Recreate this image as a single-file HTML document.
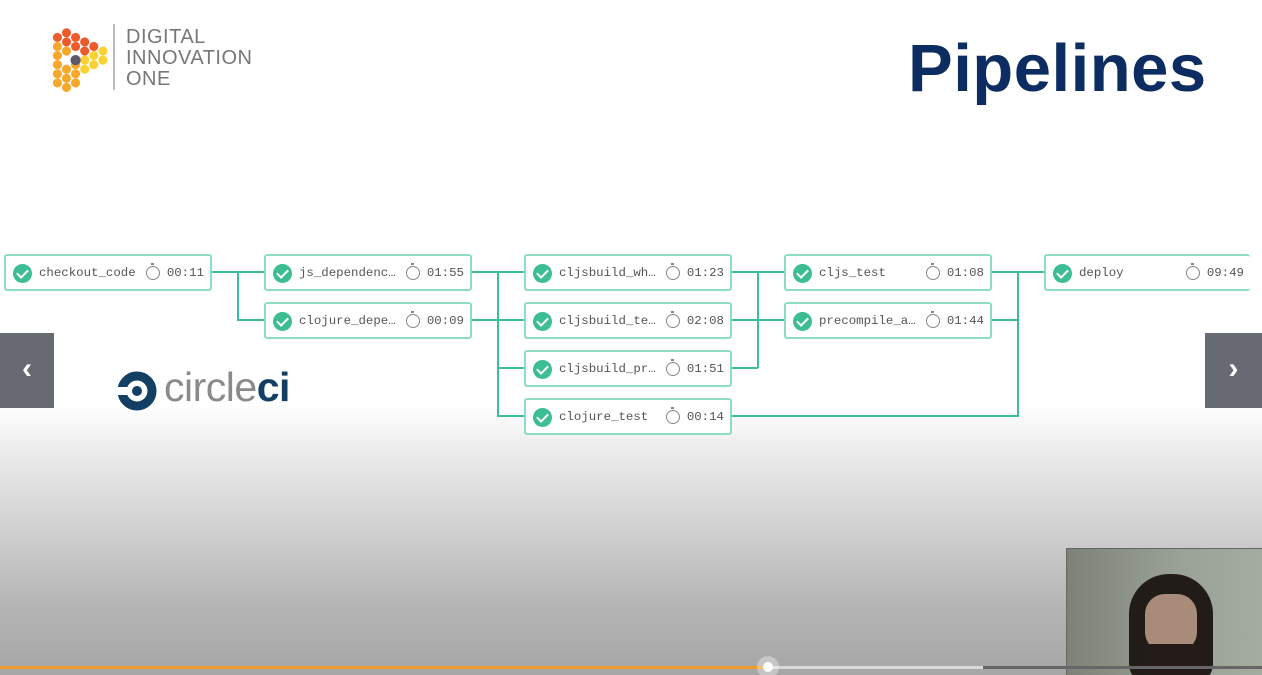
<!DOCTYPE html>
<html><head><meta charset="utf-8"><style>
*{margin:0;padding:0;box-sizing:border-box}
html,body{width:1262px;height:675px;overflow:hidden}
body{position:relative;font-family:"Liberation Sans",sans-serif;
background:linear-gradient(#fff 0,#fff 405px,#f0f0f0 440px,#d0d0d0 530px,#b4b4b4 610px,#a6a6a6 675px)}
.n{position:absolute;height:37px;border:2px solid #8fdcc6;border-radius:3px;background:#fff;font-family:"Liberation Mono",monospace;font-size:12.4px;color:#555}
.n .c{position:absolute;left:7px;top:8px;width:19px;height:19px;border-radius:50%;background:#3dbd93}
.n .c:after{content:"";position:absolute;left:6px;top:3px;width:5px;height:9px;border:solid #fff;border-width:0 2.5px 2.5px 0;transform:rotate(45deg)}
.n .l{position:absolute;left:33px;top:10px}
.n .t{position:absolute;right:6px;top:10px}
.n .w{position:absolute;right:50px;top:10px;width:14px;height:14px;border:1.5px solid #888;border-radius:50%;background:#fff}
.n .w:before{content:"";position:absolute;left:4px;top:-4px;width:3px;height:2px;background:#888}
.nav{position:absolute;top:333px;width:54px;height:75px;background:#676a72;color:#fff;font-size:30px;font-weight:bold;text-align:center;line-height:72px}
</style></head><body>
<svg style="position:absolute;left:48px;top:26px" width="62" height="66" viewBox="3 2 52 58">
<g fill="#ef5a2d"><circle cx="18" cy="8" r="4"/><circle cx="26" cy="12" r="4"/><circle cx="34" cy="16" r="4"/><circle cx="10" cy="12" r="4"/><circle cx="18" cy="16" r="4"/><circle cx="26" cy="20" r="4"/><circle cx="34" cy="24" r="4"/><circle cx="42" cy="20" r="4"/></g>
<g fill="#f7a82a"><circle cx="10" cy="20" r="4"/><circle cx="10" cy="28" r="4"/><circle cx="10" cy="36" r="4"/><circle cx="10" cy="44" r="4"/><circle cx="10" cy="52" r="4"/><circle cx="18" cy="24" r="4"/><circle cx="18" cy="40" r="4"/><circle cx="18" cy="48" r="4"/><circle cx="18" cy="56" r="4"/><circle cx="26" cy="36" r="4"/><circle cx="26" cy="44" r="4"/><circle cx="26" cy="52" r="4"/></g>
<g fill="#fcd232"><circle cx="34" cy="32" r="4"/><circle cx="34" cy="40" r="4"/><circle cx="42" cy="28" r="4"/><circle cx="42" cy="36" r="4"/><circle cx="50" cy="32" r="4"/><circle cx="50" cy="24" r="4"/></g>
<circle cx="26" cy="32" r="4.5" fill="#5a5a6a"/></svg>
<div style="position:absolute;left:113px;top:24px;width:2px;height:66px;background:#bbb"></div>
<div style="position:absolute;left:126px;top:27px;font-size:20px;line-height:21px;color:#777;letter-spacing:0.5px">DIGITAL<br>INNOVATION<br>ONE</div>
<div style="position:absolute;left:908px;top:30px;font-size:67px;font-weight:bold;color:#0d2d62;letter-spacing:0.5px">Pipelines</div>
<svg style="position:absolute;left:0;top:0" width="1262" height="675" fill="none" stroke="#3dbd9d" stroke-width="2">
<path d="M211 272H264M238 272V320H264"/>
<path d="M471 272H524M471 320H498M498 272V416H524M498 320H524M498 368H524"/>
<path d="M731 272H784M731 320H784M731 368H758M758 272V368"/>
<path d="M991 272H1044M991 320H1018M1018 272V416H731"/>
</svg>
<div class="n" style="left:4px;top:254px;width:208px"><div class="c"></div><span class="l">checkout_code</span><div class="w"></div><span class="t">00:11</span></div>
<div class="n" style="left:264px;top:254px;width:208px"><div class="c"></div><span class="l">js_dependenc…</span><div class="w"></div><span class="t">01:55</span></div>
<div class="n" style="left:264px;top:302px;width:208px"><div class="c"></div><span class="l">clojure_depe…</span><div class="w"></div><span class="t">00:09</span></div>
<div class="n" style="left:524px;top:254px;width:208px"><div class="c"></div><span class="l">cljsbuild_wh…</span><div class="w"></div><span class="t">01:23</span></div>
<div class="n" style="left:524px;top:302px;width:208px"><div class="c"></div><span class="l">cljsbuild_te…</span><div class="w"></div><span class="t">02:08</span></div>
<div class="n" style="left:524px;top:350px;width:208px"><div class="c"></div><span class="l">cljsbuild_pr…</span><div class="w"></div><span class="t">01:51</span></div>
<div class="n" style="left:524px;top:398px;width:208px"><div class="c"></div><span class="l">clojure_test</span><div class="w"></div><span class="t">00:14</span></div>
<div class="n" style="left:784px;top:254px;width:208px"><div class="c"></div><span class="l">cljs_test</span><div class="w"></div><span class="t">01:08</span></div>
<div class="n" style="left:784px;top:302px;width:208px"><div class="c"></div><span class="l">precompile_a…</span><div class="w"></div><span class="t">01:44</span></div>
<div class="n" style="left:1044px;top:254px;width:206px;border-right:none"><div class="c"></div><span class="l">deploy</span><div class="w"></div><span class="t">09:49</span></div>
<svg style="position:absolute;left:116px;top:370px" width="42" height="42"><circle cx="21" cy="21" r="15" fill="none" stroke="#123f63" stroke-width="9"/><rect x="0" y="17" width="14" height="8" fill="#fff"/><circle cx="21" cy="21" r="5" fill="#123f63"/></svg>
<div style="position:absolute;left:164px;top:364px;font-size:41px;color:#8a8a8a;letter-spacing:-0.5px">circle<b style="color:#123f63">ci</b></div>
<div class="nav" style="left:0">‹</div>
<div class="nav" style="left:1205px;width:57px">›</div>
<div style="position:absolute;left:1066px;top:548px;width:196px;height:127px;overflow:hidden;background:linear-gradient(90deg,#7d8279,#9ba296 60%,#a4aba0);border-top:1px solid #666;border-left:1px solid #666">
<div style="position:absolute;left:62px;top:25px;width:84px;height:110px;border-radius:40px 40px 20px 20px;background:#221c18"></div>
<div style="position:absolute;left:78px;top:45px;width:52px;height:58px;border-radius:20px;background:#a88b78"></div>
<div style="position:absolute;left:74px;top:95px;width:60px;height:40px;border-radius:10px 10px 0 0;background:#241c18"></div>
</div>
<div style="position:absolute;left:0;top:666px;width:768px;height:3px;background:#f29a2e"></div>
<div style="position:absolute;left:768px;top:666px;width:215px;height:3px;background:#d8d8d8"></div>
<div style="position:absolute;left:983px;top:666px;width:279px;height:3px;background:#666"></div>
<div style="position:absolute;left:757px;top:656px;width:22px;height:22px;border-radius:50%;background:rgba(255,255,255,.35)"></div>
<div style="position:absolute;left:763px;top:662px;width:10px;height:10px;border-radius:50%;background:#fff"></div>
</body></html>
